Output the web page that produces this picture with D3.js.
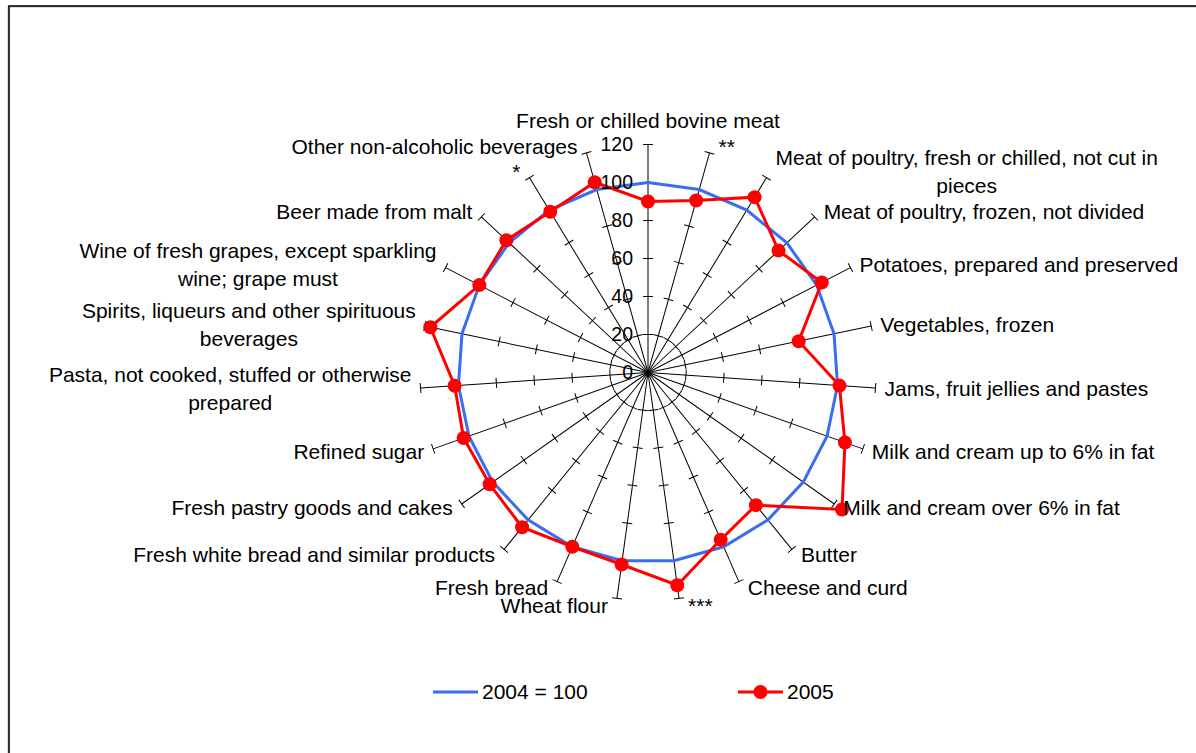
<!DOCTYPE html>
<html>
<head>
<meta charset="utf-8">
<script src="https://cdn.jsdelivr.net/npm/d3@7"></script>
<style>
  body { margin: 0; background: #fff; }
  text { font-family: "Liberation Sans", Arial, sans-serif; fill: #000; }
</style>
</head>
<body>
<div id="chart-wrapper"></div>
<script>
let width = 1196
let height = 753

// categories (clockwise from the top), "\n" marks a line break in the label
let categories = [
  "Fresh or chilled bovine meat",
  "**",
  "Meat of poultry, fresh or chilled, not cut in\npieces",
  "Meat of poultry, frozen, not divided",
  "Potatoes, prepared and preserved",
  "Vegetables, frozen",
  "Jams, fruit jellies and pastes",
  "Milk and cream up to 6% in fat",
  "Milk and cream over 6% in fat",
  "Butter",
  "Cheese and curd",
  "***",
  "Wheat flour",
  "Fresh bread",
  "Fresh white bread and similar products",
  "Fresh pastry goods and cakes",
  "Refined sugar",
  "Pasta, not cooked, stuffed or otherwise\nprepared",
  "Spirits, liqueurs and other spirituous\nbeverages",
  "Wine of fresh grapes, except sparkling\nwine; grape must",
  "Beer made from malt",
  "*",
  "Other non-alcoholic beverages"
]
let base2004 = [
  100, 100, 100, 100, 100, 100, 100, 100, 100, 100, 100, 100,
  100, 100, 100, 100, 100, 100, 100, 100, 100, 100, 100
]
let values2005 = [
  90, 94, 108, 94, 103, 81, 101, 110, 125, 90, 96, 113,
  102, 100, 105, 102, 103, 102, 117, 100, 102, 99, 104
]
let tickValues = [0, 20, 40, 60, 80, 100, 120]
let seriesNames = ["2004 = 100", "2005"]
let colors = ["#3a6df0", "#ff0000"]

let cx = 648, cy = 372.5
let r = d3.scaleLinear().domain([0, 120]).range([0, 228])
let n = categories.length
let angle = d3.scaleLinear().domain([0, n]).range([0, 2 * Math.PI])

let svg = d3.select("#chart-wrapper")
  .append("svg")
  .attr("width", width)
  .attr("height", height)

// frame
svg.append("rect")
  .attr("x", 8).attr("y", 7)
  .attr("width", 1200).attr("height", 760)
  .attr("fill", "none").attr("stroke", "#bbb").attr("stroke-width", 1)
svg.append("rect")
  .attr("x", 9).attr("y", 6)
  .attr("width", 1200).attr("height", 760)
  .attr("fill", "none").attr("stroke", "#000").attr("stroke-width", 1.6)

let graph = svg.append("g")
  .attr("class", "graph")
  .attr("transform", `translate(${cx},${cy})`)

let px = (i, v) => r(v) * Math.sin(angle(i))
let py = (i, v) => -r(v) * Math.cos(angle(i))

// spokes
let spokes = graph.selectAll(".spoke")
  .data(categories)
  .enter()
  .append("g")
  .attr("class", "spoke")
  .attr("transform", (d, i) => `rotate(${angle(i) * 180 / Math.PI})`)
spokes.append("line")
  .attr("x1", 0).attr("y1", 0)
  .attr("x2", 0).attr("y2", -r(120))
  .attr("stroke", "#000").attr("stroke-width", 1)
spokes.selectAll(".tick")
  .data(tickValues.slice(1))
  .enter()
  .append("line")
  .attr("x1", -5).attr("x2", 5)
  .attr("y1", d => -r(d)).attr("y2", d => -r(d))
  .attr("stroke", "#000").attr("stroke-width", 1)

// series
let line = d3.lineRadial()
  .angle((d, i) => angle(i))
  .radius(d => r(d))
  .curve(d3.curveLinearClosed)

graph.append("path")
  .attr("d", line(base2004))
  .attr("fill", "none")
  .attr("stroke", colors[0])
  .attr("stroke-width", 3)

graph.append("path")
  .attr("d", line(values2005))
  .attr("fill", "none")
  .attr("stroke", colors[1])
  .attr("stroke-width", 3)

graph.selectAll(".dot")
  .data(values2005)
  .enter()
  .append("circle")
  .attr("cx", (d, i) => px(i, d))
  .attr("cy", (d, i) => py(i, d))
  .attr("r", 7)
  .attr("fill", colors[1])

// axis values on the top spoke
graph.selectAll(".axisLabel")
  .data(tickValues)
  .enter()
  .append("text")
  .attr("x", -15)
  .attr("y", d => -r(d))
  .attr("dy", "0.35em")
  .attr("text-anchor", "end")
  .attr("font-size", 19.5)
  .text(d => d)

// category labels
let lineH = 27.5
categories.forEach((c, i) => {
  let a = angle(i)
  let s = Math.sin(a), co = Math.cos(a)
  let ex = px(i, 120), ey = py(i, 120)
  let lines = c.split("\n")
  let g = graph.append("g").attr("class", "catLabel")
  let txt = lines.map(l => g.append("text")
    .attr("font-size", 21)
    .attr("dy", "0.35em")
    .text(l))
  let w = d3.max(txt, t => t.node().getComputedTextLength())
  let centerX, centerY
  if (Math.abs(s) < 0.01) {
    centerX = ex
    centerY = ey - 24
  } else {
    centerX = s > 0 ? ex + 9 + w / 2 : ex - 9 - w / 2
    centerY = ey - 7 * co
  }
  txt.forEach((t, k) => {
    t.attr("text-anchor", "middle")
      .attr("x", centerX)
      .attr("y", centerY + (k - (lines.length - 1) / 2) * lineH)
  })
})

// legend
let legend = svg.append("g").attr("class", "legend")
let legendX = [433, 738]
seriesNames.forEach((name, k) => {
  let lg = legend.append("g").attr("transform", `translate(${legendX[k]},692)`)
  lg.append("line")
    .attr("x1", 0).attr("x2", 45)
    .attr("stroke", colors[k]).attr("stroke-width", 3)
  if (k === 1) {
    lg.append("circle").attr("cx", 22.5).attr("r", 7).attr("fill", colors[k])
  }
  lg.append("text")
    .attr("x", 49).attr("dy", "0.35em")
    .attr("font-size", 21)
    .text(name)
})
</script>
</body>
</html>
